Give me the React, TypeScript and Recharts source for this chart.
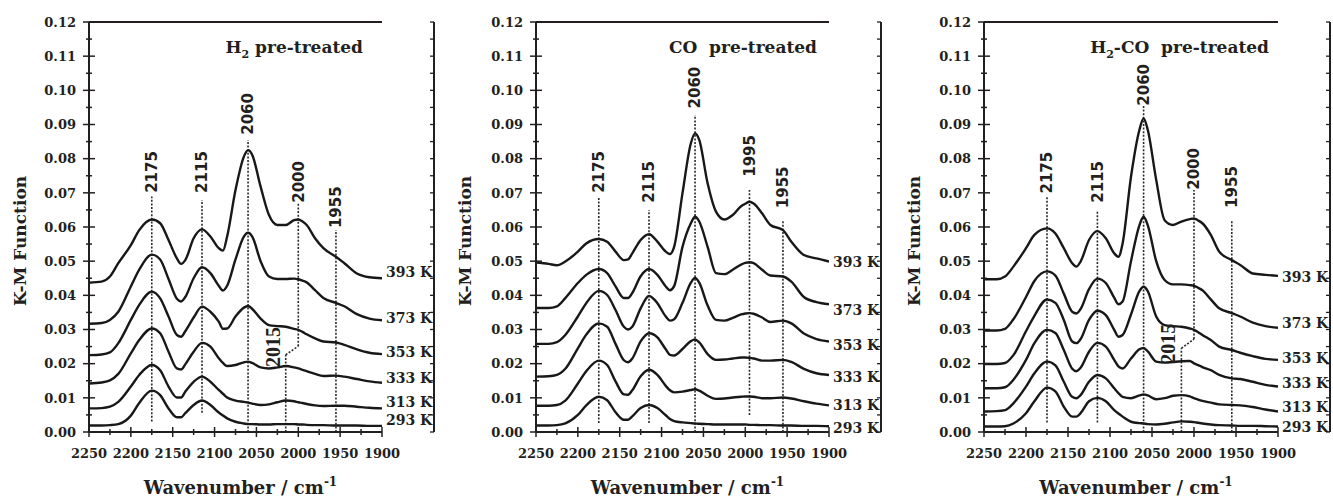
import React from 'react';
import { ComposedChart, Line, XAxis, YAxis, ReferenceLine, Scatter } from 'recharts';

const INK = '#231f20';
const SERIF = '"DejaVu Serif", serif';
const SANS = '"DejaVu Sans", sans-serif';

// shared wavenumber grid (cm-1)
const WAVENUMBERS = [
  2250, 2235, 2225, 2215, 2200, 2190,
  2175, 2165, 2155, 2145, 2140, 2135,
  2125, 2115, 2105, 2095, 2090, 2085,
  2075, 2065, 2060, 2055, 2045, 2035,
  2025, 2015, 2005, 2000, 1995, 1990,
  1980, 1970, 1955, 1945, 1930, 1915, 1900,
];

const X_TICKS = [2250, 2225, 2200, 2175, 2150, 2125, 2100, 2075, 2050, 2025, 2000, 1975, 1950, 1925, 1900];
const X_LABELS = [2250, 2200, 2150, 2100, 2050, 2000, 1950, 1900];
const Y_TICKS = [0, 0.005, 0.01, 0.015, 0.02, 0.025, 0.03, 0.035, 0.04, 0.045, 0.05, 0.055, 0.06, 0.065, 0.07, 0.075, 0.08, 0.085, 0.09, 0.095, 0.1, 0.105, 0.11, 0.115, 0.12];
const Y_LABELS = [0, 0.01, 0.02, 0.03, 0.04, 0.05, 0.06, 0.07, 0.08, 0.09, 0.1, 0.11, 0.12];
const TEMPERATURES = ['293 K', '313 K', '333 K', '353 K', '373 K', '393 K'];

// ---------- H2 pre-treated ----------
const H2_293 = [
  0.0019, 0.0019, 0.002, 0.0023, 0.0048, 0.0085,
  0.0121, 0.0108, 0.0069, 0.0043, 0.0043, 0.0055,
  0.0079, 0.0092, 0.0079, 0.0057, 0.0048, 0.004,
  0.003, 0.0025, 0.0023, 0.0023, 0.0022, 0.0022,
  0.0023, 0.0023, 0.0023, 0.0022, 0.0022, 0.0021,
  0.002, 0.002, 0.0019, 0.0019, 0.0019, 0.0018, 0.0018,
];
const H2_313 = [
  0.0069, 0.007, 0.0074, 0.0088, 0.0133, 0.0167,
  0.0196, 0.0181, 0.0133, 0.0101, 0.0101, 0.0118,
  0.0147, 0.0162, 0.0147, 0.0123, 0.0112, 0.0101,
  0.0092, 0.0088, 0.0086, 0.0083, 0.0079, 0.0081,
  0.0087, 0.0092, 0.009, 0.0087, 0.0085, 0.0082,
  0.0078, 0.0076, 0.0077, 0.0077, 0.0074, 0.0071, 0.0069,
];
const H2_333 = [
  0.0142, 0.0145, 0.0151, 0.017, 0.023, 0.0269,
  0.0303, 0.0289, 0.0235, 0.0186, 0.0183, 0.0198,
  0.0235, 0.0261, 0.025, 0.0216, 0.0202, 0.0193,
  0.0196, 0.0204, 0.0206, 0.0202, 0.0189, 0.0186,
  0.0189, 0.0193, 0.0189, 0.0186, 0.0182, 0.0178,
  0.017, 0.0164, 0.0165, 0.0162, 0.0155, 0.0148, 0.0144,
];
const H2_353 = [
  0.0225, 0.0227, 0.0233, 0.026, 0.0328, 0.0372,
  0.0411, 0.0391, 0.0338, 0.0284, 0.0279, 0.0295,
  0.0335, 0.0367, 0.0352, 0.0323, 0.0302, 0.0303,
  0.0338, 0.0364, 0.0369, 0.036, 0.0332, 0.0313,
  0.031, 0.0308, 0.0302, 0.0299, 0.0293, 0.0286,
  0.0274, 0.0265, 0.0262, 0.0255, 0.0242, 0.0232, 0.0228,
];
const H2_373 = [
  0.0317, 0.0319, 0.0328, 0.0352, 0.0426, 0.0475,
  0.0519, 0.0505, 0.0448, 0.039, 0.0382, 0.0395,
  0.045, 0.0482, 0.0465, 0.0428, 0.0414, 0.0428,
  0.0505, 0.0572, 0.0583, 0.0572, 0.05, 0.0455,
  0.0448, 0.0448, 0.0449, 0.0447, 0.0443, 0.0438,
  0.0415, 0.0392, 0.0378, 0.0368, 0.0345, 0.0332, 0.0327,
];
const H2_393 = [
  0.0437, 0.044, 0.0455, 0.0494, 0.0547, 0.0591,
  0.0622, 0.0611, 0.0562, 0.0508, 0.0492, 0.0503,
  0.0567, 0.0593, 0.0572, 0.0538, 0.0531, 0.0572,
  0.0708, 0.0806, 0.0825, 0.0811, 0.0718, 0.0635,
  0.0606, 0.0606, 0.062, 0.0622, 0.0616, 0.0606,
  0.0567, 0.0538, 0.0513, 0.0494, 0.0464, 0.0453, 0.045,
];

// ---------- CO pre-treated ----------
const CO_293 = [
  0.0019, 0.0019, 0.002, 0.0025, 0.005, 0.0078,
  0.0103, 0.0093, 0.0058, 0.0036, 0.0036, 0.0046,
  0.007, 0.0079, 0.007, 0.0049, 0.0038, 0.0032,
  0.0028, 0.0026, 0.0025, 0.0024, 0.0023, 0.0022,
  0.0022, 0.0022, 0.0022, 0.0022, 0.0021, 0.0021,
  0.002, 0.002, 0.0019, 0.0019, 0.0018, 0.0018, 0.0017,
];
const CO_313 = [
  0.0077, 0.0077, 0.0079, 0.0092, 0.0142, 0.0178,
  0.0209, 0.0196, 0.0148, 0.011, 0.0109, 0.0122,
  0.0163, 0.0182, 0.0167, 0.0135, 0.0122, 0.0116,
  0.0118, 0.0123, 0.0125, 0.0121, 0.0106, 0.0097,
  0.0098, 0.0101, 0.0103, 0.0104, 0.0104, 0.0103,
  0.0099, 0.0099, 0.0101, 0.0098, 0.009, 0.0083, 0.0078,
];
const CO_333 = [
  0.0162, 0.0163, 0.0167, 0.0185, 0.0245, 0.0285,
  0.0318, 0.0308, 0.0258, 0.021, 0.0204, 0.0215,
  0.0265, 0.0289, 0.0277, 0.0242, 0.0226, 0.0224,
  0.0243, 0.0266, 0.0271, 0.0262, 0.0228, 0.0211,
  0.0212, 0.0215, 0.0218, 0.0218, 0.0217, 0.0215,
  0.0209, 0.0209, 0.0211, 0.0205, 0.0185, 0.0172, 0.0167,
];
const CO_353 = [
  0.0258, 0.0258, 0.0263, 0.0284, 0.0338, 0.0377,
  0.0413, 0.0401, 0.0357, 0.0308, 0.03, 0.0308,
  0.0362, 0.0398, 0.0377, 0.0338, 0.0326, 0.033,
  0.0378, 0.0437, 0.0451, 0.0437, 0.037, 0.0328,
  0.0326, 0.0334, 0.0344, 0.0347, 0.0348, 0.0346,
  0.0335, 0.0322, 0.0326, 0.0318, 0.0288, 0.0272, 0.0265,
];
const CO_373 = [
  0.0363, 0.0363, 0.0368, 0.0392, 0.0436, 0.046,
  0.0477, 0.0465, 0.0426, 0.0392, 0.0392, 0.0407,
  0.0456, 0.0477, 0.046, 0.0426, 0.0415, 0.0427,
  0.0542, 0.0611, 0.063, 0.0616, 0.0542, 0.0465,
  0.0462, 0.0475, 0.049, 0.0495, 0.0497, 0.0494,
  0.0475, 0.0458, 0.0455, 0.044, 0.0395, 0.038, 0.0374,
];
const CO_393 = [
  0.0496, 0.0492, 0.0488, 0.0499, 0.0528, 0.0552,
  0.0565, 0.0557, 0.0528, 0.0503, 0.0505, 0.0523,
  0.0562, 0.0579, 0.0557, 0.0528, 0.0521, 0.0542,
  0.0699, 0.0845, 0.0874, 0.0855, 0.0728, 0.0645,
  0.0622, 0.0635, 0.0661, 0.0668, 0.0674, 0.0669,
  0.064, 0.0606, 0.0591, 0.0557, 0.0518, 0.0508, 0.0499,
];

// ---------- H2-CO pre-treated ----------
const MIX_293 = [
  0.0016, 0.0016, 0.0017, 0.0025, 0.0055, 0.009,
  0.013, 0.0119, 0.0074, 0.0045, 0.0045, 0.0055,
  0.009, 0.01, 0.009, 0.0064, 0.0054, 0.0045,
  0.003, 0.0026, 0.0025, 0.0023, 0.0022, 0.0024,
  0.0028, 0.0031, 0.003, 0.0029, 0.0027, 0.0025,
  0.0022, 0.002, 0.0019, 0.0018, 0.0018, 0.0017, 0.0016,
];
const MIX_313 = [
  0.006, 0.0061, 0.0064, 0.0084, 0.0133, 0.0172,
  0.0206, 0.0195, 0.0147, 0.0103, 0.0099, 0.0108,
  0.0147, 0.0167, 0.0157, 0.0128, 0.0114, 0.0103,
  0.0099, 0.0107, 0.011, 0.0107, 0.0096, 0.0099,
  0.0106, 0.0108, 0.0104, 0.0099, 0.0095, 0.0091,
  0.0086, 0.0081, 0.0079, 0.0078, 0.0073, 0.0066, 0.006,
];
const MIX_333 = [
  0.0128, 0.0128, 0.0131, 0.0153, 0.0211, 0.026,
  0.0299, 0.029, 0.024, 0.0185, 0.0178, 0.0188,
  0.0235, 0.0261, 0.025, 0.0211, 0.0192, 0.0186,
  0.0215, 0.0242, 0.0246, 0.0236, 0.0206, 0.0203,
  0.0205, 0.0207, 0.0208, 0.0201, 0.0196, 0.019,
  0.0181, 0.0167, 0.0157, 0.0155, 0.0147, 0.0138, 0.0133,
];
const MIX_353 = [
  0.0199, 0.0199, 0.0202, 0.0225, 0.0295, 0.034,
  0.0388, 0.0378, 0.0328, 0.0265, 0.026, 0.0272,
  0.0328, 0.0355, 0.0342, 0.0299, 0.0279, 0.0284,
  0.0344, 0.0412, 0.0425, 0.0412, 0.0338, 0.0313,
  0.031, 0.0308, 0.0303, 0.0299, 0.0292, 0.0284,
  0.0269, 0.025, 0.024, 0.0232, 0.0222, 0.0214, 0.0211,
];
const MIX_373 = [
  0.0297, 0.0297, 0.0302, 0.033, 0.0395, 0.0442,
  0.047, 0.0458, 0.0405, 0.0352, 0.0347, 0.036,
  0.0418, 0.0449, 0.0436, 0.0393, 0.0374, 0.0382,
  0.05, 0.0605, 0.063, 0.0605, 0.05, 0.0445,
  0.0432, 0.0432, 0.043, 0.0428, 0.0422, 0.0415,
  0.0388, 0.0362, 0.0348, 0.0338, 0.032, 0.031, 0.0305,
];
const MIX_393 = [
  0.0447, 0.0447, 0.0455, 0.0484, 0.0538, 0.0577,
  0.0596, 0.0581, 0.0538, 0.0494, 0.0484, 0.0499,
  0.0562, 0.0588, 0.0567, 0.0523, 0.0513, 0.0552,
  0.0747, 0.0884, 0.0918, 0.0884, 0.0738, 0.062,
  0.0606, 0.0616, 0.0623, 0.0625, 0.0619, 0.0611,
  0.0577, 0.0528, 0.0503, 0.0489, 0.0464, 0.046, 0.0457,
];

// ---------- band markers (dotted guide lines) ----------
const H2_BANDS = [2175, 2115, 2060, 2000, 1955];
const H2_BAND_LOW = [0.0031, 0.0056, 0, 0.0251, 0];
const H2_BAND_HIGH = [0.0689, 0.0679, 0.0855, 0.0669, 0.0591];
const H2_BAND_LABEL_Y = [0.0761, 0.0761, 0.0931, 0.0732, 0.0658];

const CO_BANDS = [2175, 2115, 2060, 1995, 1955];
const CO_BAND_LOW = [0.0026, 0.0026, 0, 0.005, 0];
const CO_BAND_HIGH = [0.0689, 0.065, 0.0928, 0.0708, 0.062];
const CO_BAND_LABEL_Y = [0.0761, 0.0732, 0.1008, 0.0808, 0.0716];

const MIX_BANDS = [2175, 2115, 2060, 2000, 1955];
const MIX_BAND_LOW = [0.0028, 0.0028, 0, 0.0272, 0];
const MIX_BAND_HIGH = [0.0689, 0.065, 0.0957, 0.0708, 0.062];
const MIX_BAND_LABEL_Y = [0.0759, 0.0732, 0.1016, 0.077, 0.0717];

// shoulder band at 2015 (line + connector to the 2000 line)
const H2_SHOULDER = { wn: 2015, top: 0.0226, labelWn: 2031, labelY: 0.0249 };
const MIX_SHOULDER = { wn: 2015, top: 0.0245, labelWn: 2031, labelY: 0.0258 };

// temperature label anchor values (right side)
const H2_TEMP_Y = [0.0035, 0.0088, 0.0158, 0.0234, 0.0334, 0.0468];
const CO_TEMP_Y = [0.0011, 0.0079, 0.0162, 0.0255, 0.0357, 0.0498];
const MIX_TEMP_Y = [0.0016, 0.0074, 0.0143, 0.0216, 0.0318, 0.0455];

const AXIS_LINE = { stroke: INK, strokeWidth: 2 };

const near = (a: number, b: number) => Math.abs(a - b) < 1e-9;

function BottomTick(p: any) {
  const { x, y, payload } = p;
  const v = payload.value;
  const major = X_LABELS.some((l) => near(l, v));
  const h = major ? 5 : 3;
  return (
    <g>
      <line x1={x} x2={x} y1={y - h} y2={y + h} stroke={INK} strokeWidth={1.5} />
      {major && (
        <text x={x} y={y + 26} textAnchor="middle" fontFamily={SERIF} fontWeight="bold" fontSize={13} fill={INK}>
          {v}
        </text>
      )}
    </g>
  );
}

function TopTick(p: any) {
  const { x, y } = p;
  return <line x1={x} x2={x} y1={y} y2={y + 4} stroke={INK} strokeWidth={1.3} />;
}

function LeftTick(p: any) {
  const { x, y, payload } = p;
  const v = payload.value;
  const major = Y_LABELS.some((l) => near(l, v));
  const h = major ? 6 : 3;
  return (
    <g>
      <line x1={x - h} x2={x + h} y1={y} y2={y} stroke={INK} strokeWidth={1.5} />
      {major && (
        <text x={x - 13} y={y} dy="0.36em" textAnchor="end" fontFamily={SERIF} fontWeight="bold" fontSize={13} fill={INK}>
          {v.toFixed(2)}
        </text>
      )}
    </g>
  );
}

function RightTick(p: any) {
  const { x, y } = p;
  return <line x1={x - 4} x2={x} y1={y} y2={y} stroke={INK} strokeWidth={1.3} />;
}

function makeTempTick(values: number[]) {
  return (p: any) => {
    const { x, y, payload } = p;
    const idx = values.findIndex((v) => near(v, payload.value));
    return (
      <text x={x + 4} y={y} dy="0.36em" textAnchor="start" fontFamily={SERIF} fontWeight="bold" fontSize={14} fill={INK}>
        {TEMPERATURES[idx] ?? ''}
      </text>
    );
  };
}

function BandLabel(p: any) {
  const { cx, cy, payload } = p;
  if (cx == null || cy == null) return null;
  const serif = payload.serif;
  return (
    <text
      x={cx}
      y={cy}
      transform={`rotate(-90 ${cx} ${cy})`}
      textAnchor="middle"
      dy="0.36em"
      fontFamily={serif ? '"Liberation Serif", serif' : SANS}
      fontWeight="bold"
      fontSize={serif ? 20 : 15}
      fill={INK}
    >
      {payload.text}
    </text>
  );
}

type PanelCfg = {
  left: number;
  width: number;
  plotLeft: number;
  plotRight: number;
  series: number[][];
  bands: number[];
  bandLow: number[];
  bandHigh: number[];
  bandLabelY: number[];
  shoulder?: { wn: number; top: number; labelWn: number; labelY: number };
  tempY: number[];
};

function Panel({ cfg }: { cfg: PanelCfg }) {
  const data = WAVENUMBERS.map((wn, i) => {
    const row: any = { wn };
    cfg.series.forEach((s, k) => {
      row['s' + k] = s[i];
    });
    return row;
  });
  const labels: any[] = cfg.bands.map((b, i) => ({ wn: b, v: cfg.bandLabelY[i], text: String(b), serif: false }));
  if (cfg.shoulder) {
    labels.push({ wn: cfg.shoulder.labelWn, v: cfg.shoulder.labelY, text: String(cfg.shoulder.wn), serif: true });
  }
  const ml = cfg.plotLeft - cfg.left - 60;
  const mr = cfg.left + cfg.width - cfg.plotRight - 54;
  const dotted = { stroke: '#2a2a2a', strokeWidth: 1.6, strokeDasharray: '2 1.6' };
  return (
    <div style={{ position: 'absolute', left: cfg.left, top: 0, width: cfg.width, height: 498 }}>
      <ComposedChart width={cfg.width} height={498} data={data} margin={{ top: 21, right: mr, bottom: 26, left: ml }}>
        <XAxis
          dataKey="wn"
          type="number"
          domain={[1900, 2250]}
          reversed
          allowDataOverflow
          ticks={X_TICKS}
          interval={0}
          height={40}
          tickSize={0}
          tickMargin={0}
          tickLine={false}
          axisLine={AXIS_LINE}
          tick={BottomTick}
        />
        <XAxis
          xAxisId="t"
          orientation="top"
          type="number"
          domain={[1900, 2250]}
          reversed
          allowDataOverflow
          ticks={X_TICKS}
          interval={0}
          height={1}
          tickSize={0}
          tickMargin={0}
          tickLine={false}
          axisLine={AXIS_LINE}
          tick={TopTick}
        />
        <YAxis
          type="number"
          domain={[0, 0.12]}
          allowDataOverflow
          ticks={Y_TICKS}
          interval={0}
          width={60}
          tickSize={0}
          tickMargin={0}
          tickLine={false}
          axisLine={AXIS_LINE}
          tick={LeftTick}
        />
        <YAxis
          yAxisId="r"
          orientation="right"
          type="number"
          domain={[0, 0.12]}
          allowDataOverflow
          ticks={Y_TICKS}
          interval={0}
          width={2}
          tickSize={0}
          tickMargin={0}
          tickLine={false}
          axisLine={AXIS_LINE}
          tick={RightTick}
        />
        <YAxis
          yAxisId="lab"
          orientation="right"
          type="number"
          domain={[0, 0.12]}
          allowDataOverflow
          ticks={cfg.tempY}
          interval={0}
          width={52}
          tickSize={0}
          tickMargin={0}
          tickLine={false}
          axisLine={false}
          tick={makeTempTick(cfg.tempY)}
        />
        {cfg.bands.map((b, i) => (
          <ReferenceLine
            key={'band' + b}
            segment={[
              { x: b, y: cfg.bandLow[i] },
              { x: b, y: cfg.bandHigh[i] },
            ]}
            {...dotted}
          />
        ))}
        {cfg.shoulder && (
          <ReferenceLine
            segment={[
              { x: cfg.shoulder.wn, y: 0 },
              { x: cfg.shoulder.wn, y: cfg.shoulder.top },
            ]}
            {...dotted}
          />
        )}
        {cfg.shoulder && (
          <ReferenceLine
            segment={[
              { x: cfg.shoulder.wn, y: cfg.shoulder.top },
              { x: 2000, y: cfg.bandLow[3] },
            ]}
            {...dotted}
          />
        )}
        {cfg.series.map((_, k) => (
          <Line
            key={'s' + k}
            dataKey={'s' + k}
            type="monotone"
            stroke="#181818"
            strokeWidth={2.4}
            dot={false}
            activeDot={false}
            isAnimationActive={false}
          />
        ))}
        <Scatter data={labels} dataKey="v" isAnimationActive={false} shape={BandLabel} />
      </ComposedChart>
    </div>
  );
}

const PANELS: PanelCfg[] = [
  {
    left: 0,
    width: 440,
    plotLeft: 89,
    plotRight: 382,
    series: [H2_293, H2_313, H2_333, H2_353, H2_373, H2_393],
    bands: H2_BANDS,
    bandLow: H2_BAND_LOW,
    bandHigh: H2_BAND_HIGH,
    bandLabelY: H2_BAND_LABEL_Y,
    shoulder: H2_SHOULDER,
    tempY: H2_TEMP_Y,
  },
  {
    left: 440,
    width: 447,
    plotLeft: 536,
    plotRight: 829,
    series: [CO_293, CO_313, CO_333, CO_353, CO_373, CO_393],
    bands: CO_BANDS,
    bandLow: CO_BAND_LOW,
    bandHigh: CO_BAND_HIGH,
    bandLabelY: CO_BAND_LABEL_Y,
    tempY: CO_TEMP_Y,
  },
  {
    left: 887,
    width: 446,
    plotLeft: 984,
    plotRight: 1278,
    series: [MIX_293, MIX_313, MIX_333, MIX_353, MIX_373, MIX_393],
    bands: MIX_BANDS,
    bandLow: MIX_BAND_LOW,
    bandHigh: MIX_BAND_HIGH,
    bandLabelY: MIX_BAND_LABEL_Y,
    shoulder: MIX_SHOULDER,
    tempY: MIX_TEMP_Y,
  },
];

const TITLE_RIGHT = [363, 817, 1269];
const Y_TITLE_X = [20, 465, 914];

function Overlay() {
  const txt = { fontFamily: SERIF, fontWeight: 'bold' as const, fill: INK };
  return (
    <svg width={1333} height={498} style={{ position: 'absolute', left: 0, top: 0, pointerEvents: 'none' }}>
      <text x={TITLE_RIGHT[0]} y={53} textAnchor="end" fontSize={17} {...txt}>
        H<tspan fontSize={11} dy={5}>2</tspan>
        <tspan dy={-5}> pre-treated</tspan>
      </text>
      <text x={TITLE_RIGHT[1]} y={53} textAnchor="end" fontSize={17} {...txt}>
        {'CO\u00A0 pre-treated'}
      </text>
      <text x={TITLE_RIGHT[2]} y={53} textAnchor="end" fontSize={17} {...txt}>
        H<tspan fontSize={11} dy={5}>2</tspan>
        <tspan dy={-5}>{'-CO\u00A0 pre-treated'}</tspan>
      </text>
      {PANELS.map((p, i) => (
        <g key={'ax' + i}>
          <text
            x={Y_TITLE_X[i]}
            y={241}
            transform={`rotate(-90 ${Y_TITLE_X[i]} 241)`}
            textAnchor="middle"
            dy="0.36em"
            fontSize={17}
            {...txt}
          >
            K-M Function
          </text>
          <text x={(p.plotLeft + p.plotRight) / 2 + 5} y={494} textAnchor="middle" fontSize={18} {...txt}>
            Wavenumber / cm<tspan fontSize={12} dy={-8}>-1</tspan>
          </text>
        </g>
      ))}
    </svg>
  );
}

export default function App() {
  return (
    <div style={{ position: 'absolute', left: 0, top: 0, width: 1333, height: 498, background: '#fff' }}>
      {PANELS.map((cfg, i) => (
        <Panel key={i} cfg={cfg} />
      ))}
      <Overlay />
    </div>
  );
}
